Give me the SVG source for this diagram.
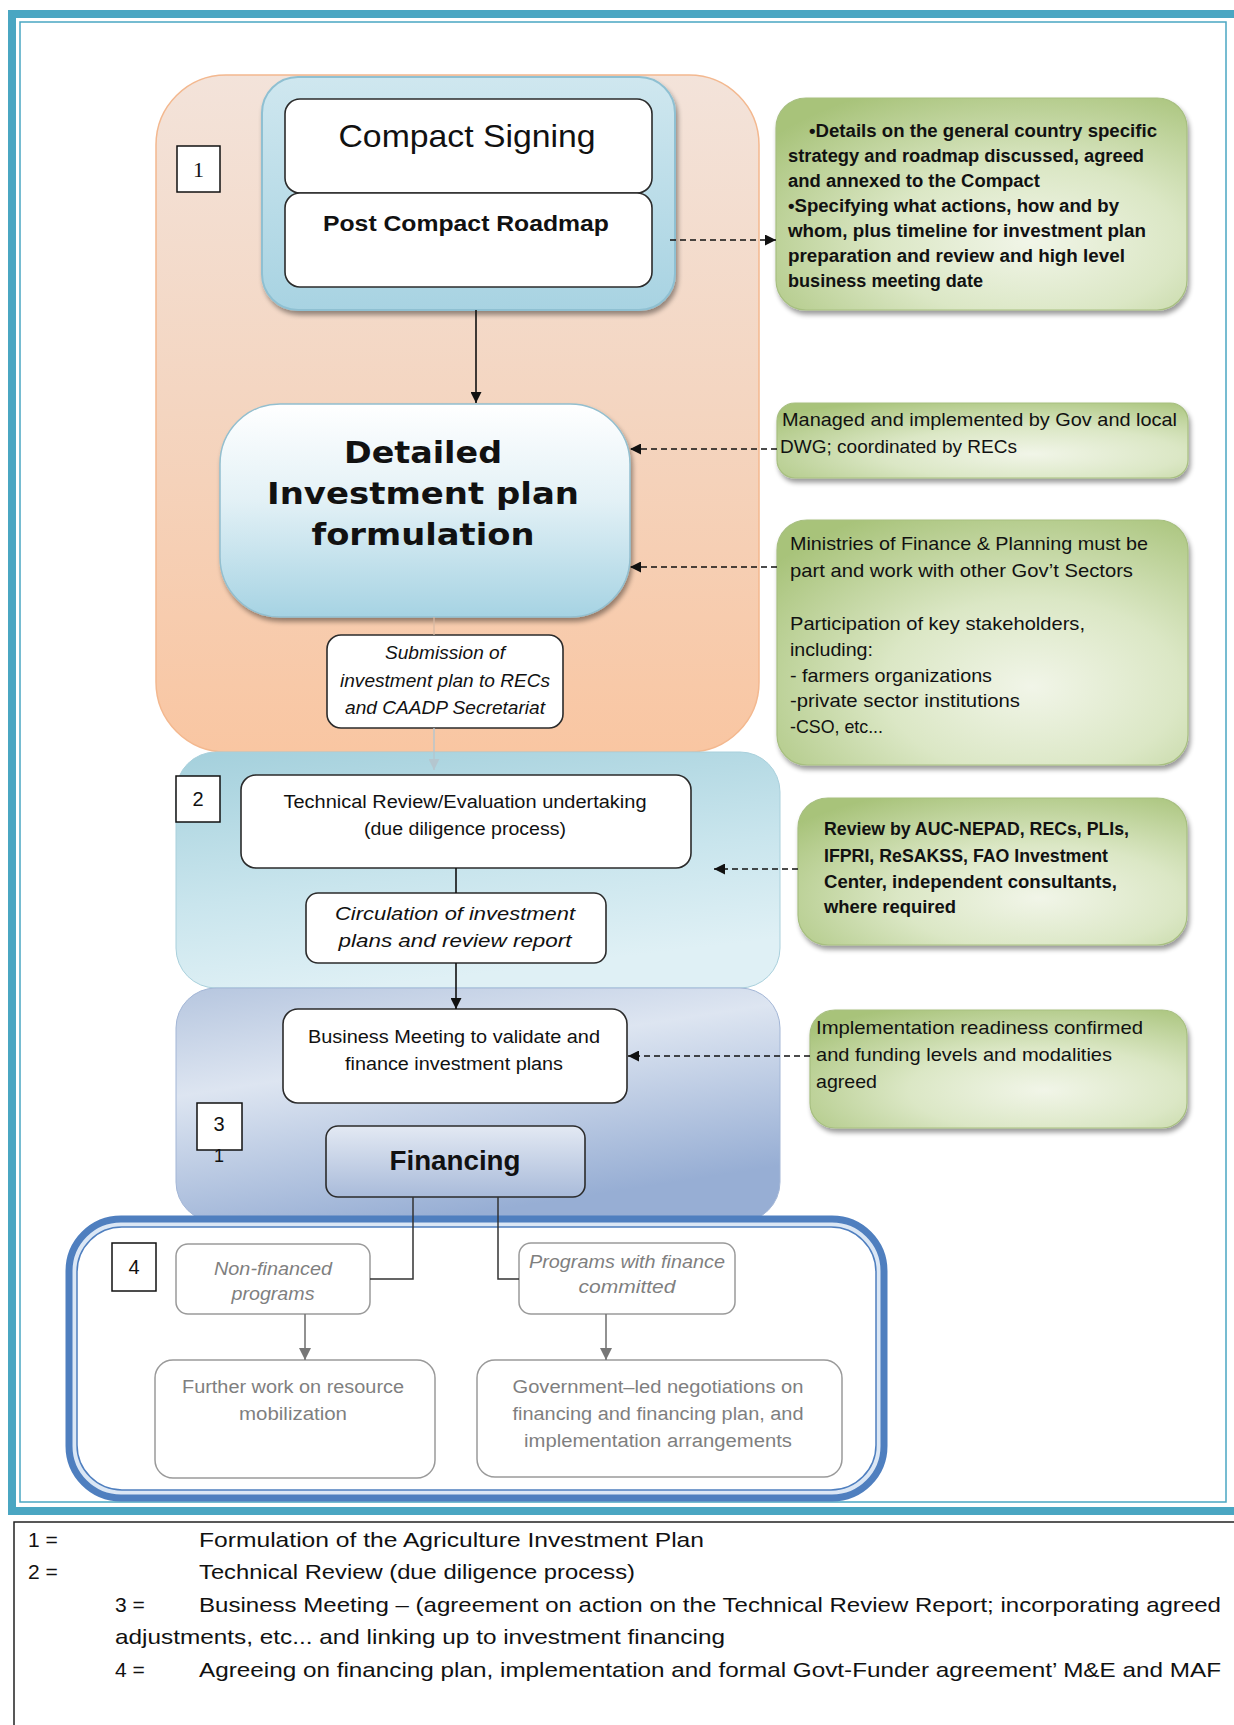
<svg xmlns="http://www.w3.org/2000/svg" width="1234" height="1725" viewBox="0 0 1234 1725">
<defs>
<style>
.t{font-family:"Liberation Sans",Arial,sans-serif;fill:#111}
.c{text-anchor:middle}
.it{font-style:italic}
.b{font-weight:bold}
.box{fill:#fff;stroke:#2b2b2b;stroke-width:1.6}
.gbox{fill:#fff;stroke:#9a9a9a;stroke-width:1.5}
.gtxt{fill:#7f7f7f}
.num{fill:#fff;stroke:#111;stroke-width:1.5}
.green{fill:url(#gGreen);stroke:#a7bf80;stroke-width:1.2;filter:url(#sh)}
.dash{stroke:#111;stroke-width:1.6;stroke-dasharray:6 4;fill:none}
.solid{stroke:#111;stroke-width:1.6;fill:none}
.grey{stroke:#777;stroke-width:1.6;fill:none}
.lg{font-size:21px}
.gt{font-size:18px}
</style>
<linearGradient id="gOrange" x1="0" y1="0" x2="0" y2="1">
<stop offset="0" stop-color="#f3e3da"/><stop offset="0.5" stop-color="#f4d5c0"/><stop offset="1" stop-color="#f9c6a2"/>
</linearGradient>
<linearGradient id="gCompact" x1="0" y1="0" x2="0" y2="1">
<stop offset="0" stop-color="#cfe7ef"/><stop offset="1" stop-color="#a8d3e2"/>
</linearGradient>
<linearGradient id="gDetail" x1="0" y1="0" x2="0" y2="1">
<stop offset="0" stop-color="#ffffff"/><stop offset="0.45" stop-color="#e3f1f6"/><stop offset="1" stop-color="#a6d3e3"/>
</linearGradient>
<linearGradient id="gTeal" x1="0" y1="0" x2="0.3" y2="1">
<stop offset="0" stop-color="#a4d0dc"/><stop offset="0.6" stop-color="#c9e5ed"/><stop offset="1" stop-color="#dff0f5"/>
</linearGradient>
<linearGradient id="gLav" x1="0" y1="0" x2="0.4" y2="1">
<stop offset="0" stop-color="#b6c6df"/><stop offset="0.4" stop-color="#dde5f1"/><stop offset="1" stop-color="#97aed4"/>
</linearGradient>
<linearGradient id="gFin" x1="0" y1="0" x2="0" y2="1">
<stop offset="0" stop-color="#e3e9f3"/><stop offset="1" stop-color="#a9bbda"/>
</linearGradient>
<radialGradient id="gGreen" cx="0.62" cy="0.68" r="0.8">
<stop offset="0" stop-color="#f1f5e8"/><stop offset="0.45" stop-color="#dbe7c5"/><stop offset="1" stop-color="#a8c37a"/>
</radialGradient>
<filter id="sh" x="-10%" y="-10%" width="125%" height="130%">
<feGaussianBlur in="SourceAlpha" stdDeviation="2.5"/>
<feOffset dx="2" dy="4"/>
<feComponentTransfer><feFuncA type="linear" slope="0.4"/></feComponentTransfer>
<feMerge><feMergeNode/><feMergeNode in="SourceGraphic"/></feMerge>
</filter>
<marker id="ah" viewBox="0 0 10 10" refX="10" refY="5" markerWidth="11" markerHeight="11" markerUnits="userSpaceOnUse" orient="auto">
<path d="M0,0 L10,5 L0,10 z" fill="#111"/>
</marker>
<marker id="ahg" viewBox="0 0 10 10" refX="10" refY="5" markerWidth="12" markerHeight="12" markerUnits="userSpaceOnUse" orient="auto">
<path d="M0,0 L10,5 L0,10 z" fill="#777"/>
</marker>
<marker id="ahl" viewBox="0 0 10 10" refX="10" refY="5" markerWidth="11" markerHeight="11" markerUnits="userSpaceOnUse" orient="auto">
<path d="M0,0 L10,5 L0,10 z" fill="#b4c6cf"/>
</marker>
</defs>

<rect x="0" y="0" width="1234" height="1725" fill="#fff"/>

<g id="frame">
<rect x="12" y="14" width="1226" height="1497" fill="none" stroke="#4aa6c2" stroke-width="8"/>
<rect x="20" y="22" width="1206" height="1480" fill="none" stroke="#4aa6c2" stroke-width="1.5"/>
</g>

<g id="stage1">
<rect x="156" y="75" width="603" height="677" rx="70" fill="url(#gOrange)" stroke="#f3b88f" stroke-width="1.5"/>
<g id="n1">
<rect x="177" y="146" width="43" height="46" class="num"/>
<text x="198.5" y="177" class="c" font-family="'Liberation Serif',serif" font-size="22" fill="#111">1</text>
</g>
</g>

<g id="stage2">
<rect x="176" y="752" width="604" height="236" rx="40" fill="url(#gTeal)" stroke="#a9d0dc" stroke-width="1"/>
<g id="n2">
<rect x="176" y="776" width="44" height="46" class="num"/>
<text x="198" y="806" class="t c" font-size="20">2</text>
</g>
</g>

<g id="stage3">
<rect x="176" y="988" width="604" height="234" rx="40" fill="url(#gLav)" stroke="#a3b6d6" stroke-width="1"/>
</g>

<g id="stage4">
<rect x="69" y="1219" width="815" height="279" rx="52" fill="#dbe7f5" stroke="#4f7fbf" stroke-width="7"/>
<rect x="77" y="1227" width="799" height="263" rx="45" fill="#fff" stroke="#4f7fbf" stroke-width="1.5"/>
<g id="n4">
<rect x="112" y="1243" width="44" height="48" class="num"/>
<text x="134" y="1274" class="t c" font-size="20">4</text>
</g>
</g>

<g id="compact">
<rect x="262" y="77" width="413" height="233" rx="36" fill="url(#gCompact)" stroke="#8fc0d2" stroke-width="2" filter="url(#sh)"/>
<rect x="285" y="99" width="367" height="94" rx="15" class="box"/>
<text x="467" y="147" class="t c" font-size="32" textLength="257" lengthAdjust="spacingAndGlyphs">Compact Signing</text>
</g>

<g id="roadmap">
<rect x="285" y="193" width="367" height="94" rx="15" class="box"/>
<text x="466" y="231" class="t c b" font-size="22" textLength="286" lengthAdjust="spacingAndGlyphs">Post Compact Roadmap</text>
</g>

<g id="detailed">
<rect x="220" y="404" width="410" height="213" rx="60" fill="url(#gDetail)" stroke="#93bfcf" stroke-width="1.5" filter="url(#sh)"/>
<text x="423" y="463" class="c" font-family="'DejaVu Sans',Verdana,sans-serif" font-weight="bold" font-size="31" fill="#111" textLength="158" lengthAdjust="spacingAndGlyphs">Detailed</text>
<text x="423" y="504" class="c" font-family="'DejaVu Sans',Verdana,sans-serif" font-weight="bold" font-size="31" fill="#111" textLength="312" lengthAdjust="spacingAndGlyphs">Investment plan</text>
<text x="423" y="545" class="c" font-family="'DejaVu Sans',Verdana,sans-serif" font-weight="bold" font-size="31" fill="#111" textLength="223" lengthAdjust="spacingAndGlyphs">formulation</text>
</g>

<g id="submission">
<rect x="327" y="635" width="236" height="93" rx="14" class="box"/>
<text x="445" y="659" class="t c it" font-size="18" textLength="120" lengthAdjust="spacingAndGlyphs">Submission of</text>
<text x="445" y="687" class="t c it" font-size="18" textLength="210" lengthAdjust="spacingAndGlyphs">investment plan to RECs</text>
<text x="445" y="714" class="t c it" font-size="18" textLength="200" lengthAdjust="spacingAndGlyphs">and CAADP Secretariat</text>
</g>

<g id="technical">
<rect x="241" y="775" width="450" height="93" rx="15" class="box"/>
<text x="465" y="808" class="t c" font-size="18" textLength="363" lengthAdjust="spacingAndGlyphs">Technical Review/Evaluation undertaking</text>
<text x="465" y="835" class="t c" font-size="18" textLength="202" lengthAdjust="spacingAndGlyphs">(due diligence process)</text>
</g>

<g id="circulation">
<rect x="306" y="893" width="300" height="70" rx="12" class="box"/>
<text x="455" y="920" class="t c it" font-size="19" textLength="240" lengthAdjust="spacingAndGlyphs">Circulation of investment</text>
<text x="455" y="947" class="t c it" font-size="19" textLength="233" lengthAdjust="spacingAndGlyphs">plans and review report</text>
</g>

<g id="business">
<rect x="283" y="1009" width="344" height="94" rx="15" class="box"/>
<text x="454" y="1043" class="t c" font-size="18" textLength="292" lengthAdjust="spacingAndGlyphs">Business Meeting to validate and</text>
<text x="454" y="1070" class="t c" font-size="18" textLength="218" lengthAdjust="spacingAndGlyphs">finance investment plans</text>
</g>

<g id="n3">
<rect x="197" y="1103" width="45" height="47" class="num"/>
<text x="219" y="1131" class="t c" font-size="20">3</text>
<text x="219" y="1162" class="t c" font-size="18">1</text>
</g>

<g id="financing">
<rect x="326" y="1126" width="259" height="71" rx="12" fill="url(#gFin)" stroke="#2b2b2b" stroke-width="1.6"/>
<text x="455" y="1170" class="t c b" font-size="27" textLength="131" lengthAdjust="spacingAndGlyphs" fill="#1a1a1a">Financing</text>
</g>

<g id="nonfinanced">
<rect x="176" y="1244" width="194" height="70" rx="12" class="gbox"/>
<text x="273" y="1275" class="t c it gtxt" font-size="18" textLength="118" lengthAdjust="spacingAndGlyphs">Non-financed</text>
<text x="273" y="1300" class="t c it gtxt" font-size="18" textLength="83" lengthAdjust="spacingAndGlyphs">programs</text>
</g>

<g id="committed">
<rect x="519" y="1243" width="216" height="71" rx="12" class="gbox"/>
<text x="627" y="1268" class="t c it gtxt" font-size="18" textLength="196" lengthAdjust="spacingAndGlyphs">Programs with finance</text>
<text x="627" y="1293" class="t c it gtxt" font-size="18" textLength="97" lengthAdjust="spacingAndGlyphs">committed</text>
</g>

<g id="further">
<rect x="155" y="1360" width="280" height="118" rx="18" class="gbox"/>
<text x="293" y="1393" class="t c gtxt" font-size="18" textLength="222" lengthAdjust="spacingAndGlyphs">Further work on resource</text>
<text x="293" y="1420" class="t c gtxt" font-size="18" textLength="108" lengthAdjust="spacingAndGlyphs">mobilization</text>
</g>

<g id="government">
<rect x="477" y="1360" width="365" height="117" rx="18" class="gbox"/>
<text x="658" y="1393" class="t c gtxt" font-size="18" textLength="291" lengthAdjust="spacingAndGlyphs">Government–led negotiations on</text>
<text x="658" y="1420" class="t c gtxt" font-size="18" textLength="291" lengthAdjust="spacingAndGlyphs">financing and financing plan, and</text>
<text x="658" y="1447" class="t c gtxt" font-size="18" textLength="268" lengthAdjust="spacingAndGlyphs">implementation arrangements</text>
</g>

<g id="note1">
<rect x="776" y="98" width="411" height="212" rx="30" class="green"/>
<text class="t gt b" fill="#1a1a1a">
<tspan x="809" y="137" textLength="348" lengthAdjust="spacingAndGlyphs">•Details on the general country specific</tspan>
<tspan x="788" y="162" textLength="356" lengthAdjust="spacingAndGlyphs">strategy and roadmap discussed, agreed</tspan>
<tspan x="788" y="187" textLength="252" lengthAdjust="spacingAndGlyphs">and annexed to the Compact</tspan>
<tspan x="788" y="212" textLength="331" lengthAdjust="spacingAndGlyphs">•Specifying what actions, how and by</tspan>
<tspan x="788" y="237" textLength="358" lengthAdjust="spacingAndGlyphs">whom, plus timeline for investment plan</tspan>
<tspan x="788" y="262" textLength="337" lengthAdjust="spacingAndGlyphs">preparation and review and high level</tspan>
<tspan x="788" y="287" textLength="195" lengthAdjust="spacingAndGlyphs">business meeting date</tspan>
</text>
</g>

<g id="note2">
<rect x="777" y="403" width="411" height="75" rx="18" class="green"/>
<text class="t" font-size="19" fill="#222">
<tspan x="782" y="426" textLength="395" lengthAdjust="spacingAndGlyphs">Managed and implemented by Gov and local</tspan>
<tspan x="780" y="453" textLength="237" lengthAdjust="spacingAndGlyphs">DWG; coordinated by RECs</tspan>
</text>
</g>

<g id="note3">
<rect x="777" y="520" width="411" height="245" rx="30" class="green"/>
<text class="t" font-size="19" fill="#222">
<tspan x="790" y="550" textLength="358" lengthAdjust="spacingAndGlyphs">Ministries of Finance &amp; Planning  must be</tspan>
<tspan x="790" y="577" textLength="343" lengthAdjust="spacingAndGlyphs">part and work with other Gov’t Sectors</tspan>
<tspan x="790" y="630" textLength="295" lengthAdjust="spacingAndGlyphs">Participation of key stakeholders,</tspan>
<tspan x="790" y="656" textLength="83" lengthAdjust="spacingAndGlyphs">including:</tspan>
<tspan x="790" y="682" textLength="202" lengthAdjust="spacingAndGlyphs">- farmers organizations</tspan>
<tspan x="790" y="707" textLength="230" lengthAdjust="spacingAndGlyphs">-private sector institutions</tspan>
<tspan x="790" y="733" textLength="93" lengthAdjust="spacingAndGlyphs">-CSO, etc...</tspan>
</text>
</g>

<g id="note4">
<rect x="798" y="798" width="389" height="147" rx="30" class="green"/>
<text class="t gt b" fill="#1a1a1a">
<tspan x="824" y="835" textLength="305" lengthAdjust="spacingAndGlyphs">Review by AUC-NEPAD, RECs, PLIs,</tspan>
<tspan x="824" y="862" textLength="284" lengthAdjust="spacingAndGlyphs">IFPRI, ReSAKSS, FAO Investment</tspan>
<tspan x="824" y="888" textLength="293" lengthAdjust="spacingAndGlyphs">Center, independent  consultants,</tspan>
<tspan x="824" y="913" textLength="132" lengthAdjust="spacingAndGlyphs">where required</tspan>
</text>
</g>

<g id="note5">
<rect x="810" y="1010" width="377" height="118" rx="25" class="green"/>
<text class="t" font-size="19" fill="#222">
<tspan x="816" y="1034" textLength="327" lengthAdjust="spacingAndGlyphs">Implementation readiness  confirmed</tspan>
<tspan x="816" y="1061" textLength="296" lengthAdjust="spacingAndGlyphs">and funding levels and modalities</tspan>
<tspan x="816" y="1088" textLength="61" lengthAdjust="spacingAndGlyphs">agreed</tspan>
</text>
</g>

<g id="connectors">
<line x1="476" y1="310" x2="476" y2="403" class="solid" marker-end="url(#ah)"/>
<line x1="434" y1="617" x2="434" y2="635" stroke="#d6b9a4" stroke-width="1.2"/>
<line x1="434" y1="728" x2="434" y2="770" stroke="#b4c6cf" stroke-width="1.4" marker-end="url(#ahl)"/>
<line x1="456" y1="868" x2="456" y2="893" class="solid"/>
<line x1="456" y1="963" x2="456" y2="1009" class="solid" marker-end="url(#ah)"/>
<polyline points="413,1197 413,1279 370,1279" stroke="#333" stroke-width="1.5" fill="none"/>
<polyline points="498,1197 498,1279 519,1279" stroke="#333" stroke-width="1.5" fill="none"/>
<line x1="305" y1="1314" x2="305" y2="1360" class="grey" marker-end="url(#ahg)"/>
<line x1="606" y1="1314" x2="606" y2="1360" class="grey" marker-end="url(#ahg)"/>
<line x1="670" y1="240" x2="776" y2="240" class="dash" marker-end="url(#ah)"/>
<line x1="777" y1="449" x2="630" y2="449" class="dash" marker-end="url(#ah)"/>
<line x1="777" y1="567" x2="630" y2="567" class="dash" marker-end="url(#ah)"/>
<line x1="798" y1="869" x2="714" y2="869" class="dash" marker-end="url(#ah)"/>
<line x1="810" y1="1056" x2="628" y2="1056" class="dash" marker-end="url(#ah)"/>
</g>

<g id="legend">
<rect x="14" y="1522" width="1230" height="220" fill="#fff" stroke="#222" stroke-width="1.5"/>
<text class="t lg" x="28" y="1547">1 =</text>
<text class="t lg" x="199" y="1547" textLength="505" lengthAdjust="spacingAndGlyphs">Formulation of the Agriculture Investment Plan</text>
<text class="t lg" x="28" y="1579">2 =</text>
<text class="t lg" x="199" y="1579" textLength="436" lengthAdjust="spacingAndGlyphs">Technical Review (due diligence process)</text>
<text class="t lg" x="115" y="1612">3 =</text>
<text class="t lg" x="199" y="1612" textLength="1022" lengthAdjust="spacingAndGlyphs">Business Meeting – (agreement on action on the Technical Review Report; incorporating agreed</text>
<text class="t lg" x="115" y="1644" textLength="610" lengthAdjust="spacingAndGlyphs">adjustments, etc... and linking up to investment financing</text>
<text class="t lg" x="115" y="1677">4 =</text>
<text class="t lg" x="199" y="1677" textLength="1022" lengthAdjust="spacingAndGlyphs">Agreeing on financing plan, implementation and formal Govt-Funder agreement’ M&amp;E and MAF</text>
</g>
</svg>
